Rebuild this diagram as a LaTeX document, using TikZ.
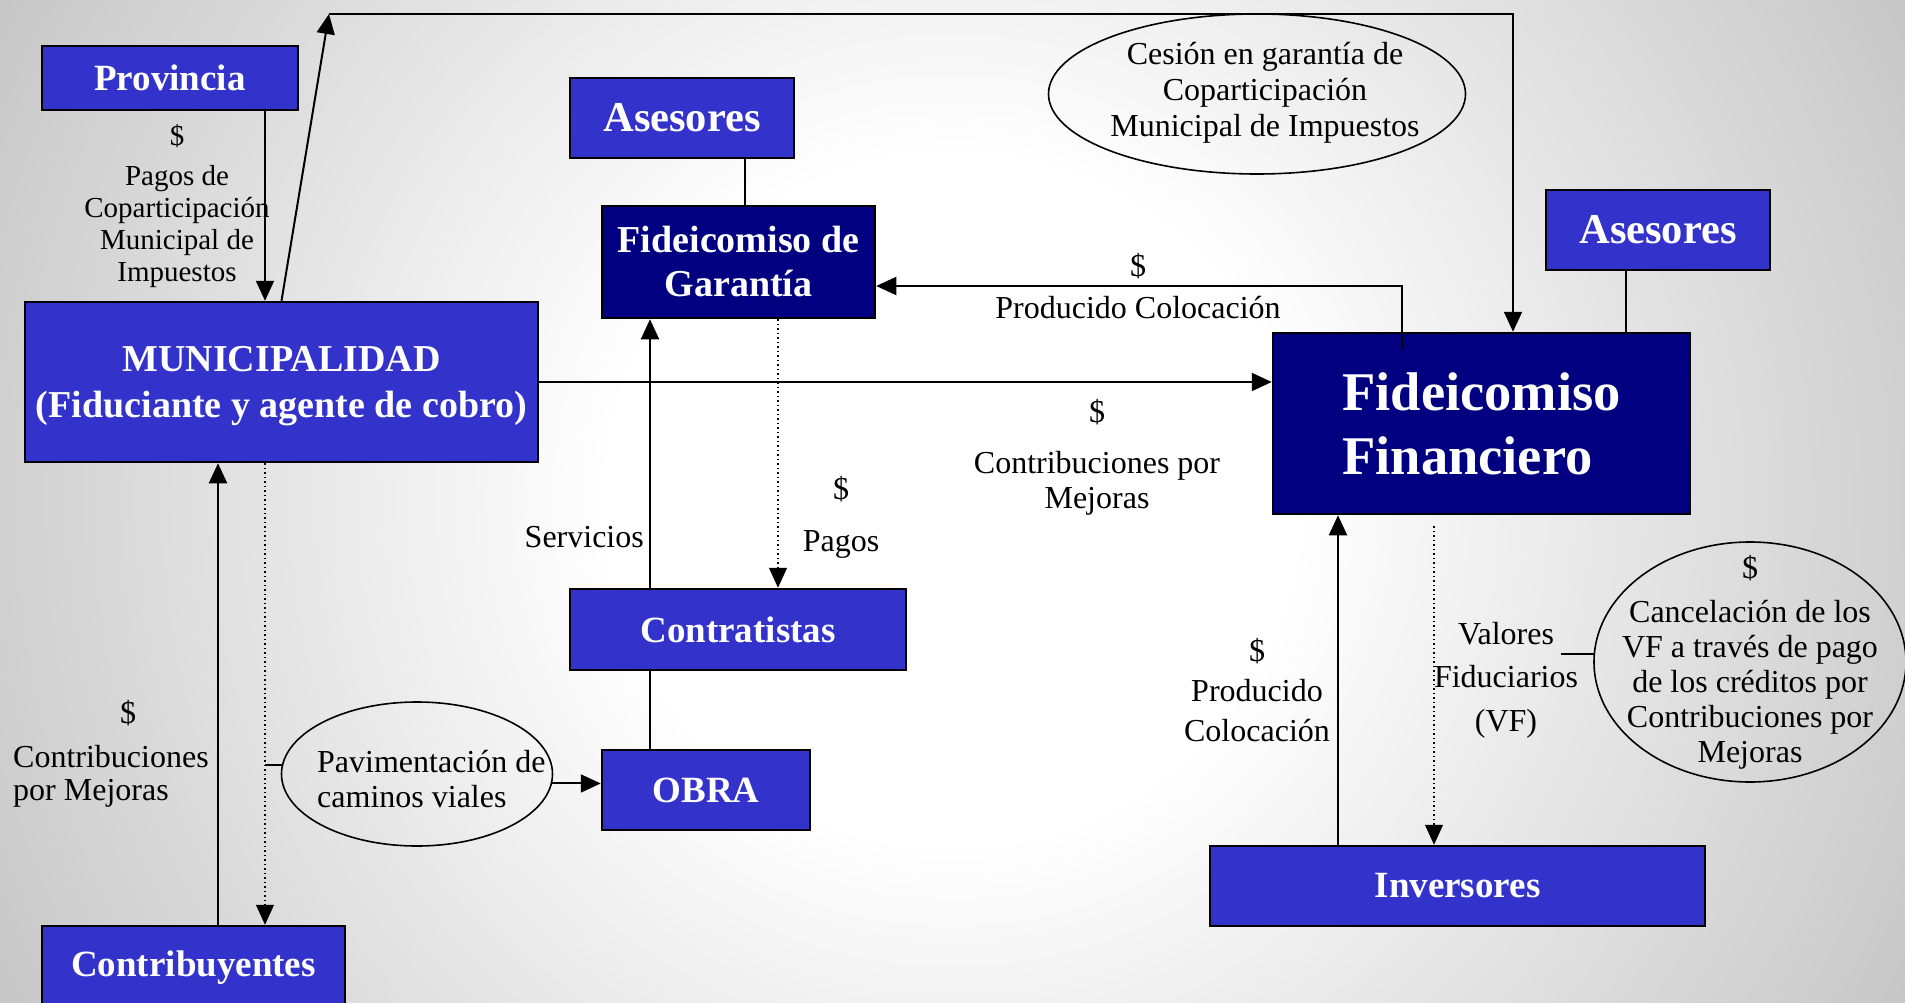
\documentclass[tikz,border=0pt]{standalone}
\usepackage{fontspec}
\setmainfont{Liberation Serif}
\usetikzlibrary{arrows.meta,shapes.geometric}
\definecolor{boxblue}{HTML}{3333CC}
\definecolor{boxnavy}{HTML}{000080}
\newcommand{\boxfont}{\bfseries\fontsize{37}{45}\selectfont}
\newcommand{\lblfont}{\fontsize{32}{35}\selectfont}
\pgfdeclareradialshading{bgshade}{\pgfpoint{0bp}{0bp}}{color(0bp)=(white); color(9bp)=(white); color(50bp)=(black!47); color(75bp)=(black!52)}
\tikzset{
	boxnode/.style={rectangle, draw=black, line width=2.5pt, fill=boxblue, text=white, font=\boxfont, align=center, inner sep=0pt},
	darknode/.style={boxnode, fill=boxnavy},
	asesnode/.style={boxnode, font=\bfseries\fontsize{42.5}{49}\selectfont},
	ovalnode/.style={ellipse, draw=black, line width=1.6pt, font=\lblfont, align=center, inner xsep=-50pt, inner ysep=-40pt},
	lbl/.style={font=\lblfont, align=center, inner sep=0pt},
	link/.style={line width=2pt},
	dotline/.style={line width=1.2pt, dash pattern=on 1.5pt off 3pt}
}

\begin{document}
\begin{tikzpicture}[x=1pt, y=-1pt, >={Triangle[length=20pt,width=18pt]}]
	\useasboundingbox (0,0) rectangle (1905,1003);
	\shade[shading=bgshade] (0,-450) rectangle (1905,1450);
	
	\node[boxnode, minimum width=256pt, minimum height=64pt] at (170,78) (prov) {Provincia};
	\node[asesnode, minimum width=224pt, minimum height=80pt] at (682,118) (asesL) {Asesores};
	\node[darknode, font=\bfseries\fontsize{38}{44}\selectfont, minimum width=273pt, minimum height=112pt] at (738.5,262) (fg) {Fideicomiso de\\Garantía};
	\node[boxnode, font=\bfseries\fontsize{38}{46}\selectfont, text depth=-8pt, minimum width=513pt, minimum height=160pt] at (281.5,382) (muni) {MUNICIPALIDAD\\(Fiduciante y agente de cobro)};
	\node[asesnode, minimum width=224pt, minimum height=80pt] at (1658,230) (asesR) {Asesores};
	\node[darknode, align=left, font=\bfseries\fontsize{54.5}{64}\selectfont, minimum width=417pt, minimum height=181pt] at (1481.5,423.5) (ff) {Fideicomiso\\Financiero};
	\node[boxnode, minimum width=336pt, minimum height=81pt] at (738,629.5) (contrat) {Contratistas};
	\node[boxnode, minimum width=208pt, minimum height=80pt] at (706,790) (obra) {OBRA};
	\node[boxnode, minimum width=303pt, minimum height=84pt] at (193.5,968) (contrib) {Contribuyentes};
	\node[boxnode, minimum width=495pt, minimum height=80pt] at (1457.5,886) (inv) {Inversores};
	
	\node[ovalnode, minimum width=417pt, minimum height=160pt] at (1257,94) (cesion) {};
	\node[lbl, font=\fontsize{32}{36}\selectfont] at (1265,93) (cesionlbl) {Cesión en garantía de\\Coparticipación\\Municipal de Impuestos};
	\node[ovalnode, minimum width=271pt, minimum height=144pt] at (417,774) (pav) {};
	\node[lbl, align=left, anchor=west] at (317,779) (pavlbl) {Pavimentación de\\caminos viales};
	\node[ovalnode, minimum width=312pt, minimum height=240pt] at (1750,662) (cancel) {\$\\[9pt]Cancelación de los\\VF a través de pago\\de los créditos por\\Contribuciones por\\Mejoras};
	
	%Labels
	\node[lbl, font=\fontsize{29}{32}\selectfont] at (177,206) (provlbl) {\$\\[8pt]Pagos de\\Coparticipación\\Municipal de\\Impuestos};
	\node[lbl] at (1138,286) (prodlbl) {\$\\[7pt]Producido Colocación};
	\node[lbl] at (1097,457) (mejlbl) {\$\\[16pt]Contribuciones por\\Mejoras};
	\node[lbl] at (841,517) (pagoslbl) {\$\\[17pt]Pagos};
	\node[lbl, anchor=east] at (644,537) (servlbl) {Servicios};
	\node[lbl] at (128,713) (dollarC) {\$};
	\node[lbl, align=left, anchor=west, font=\fontsize{32}{33}\selectfont] at (13,776.5) (contlbl) {Contribuciones\\por Mejoras};
	\node[lbl, font=\fontsize{32}{40}\selectfont] at (1257,690) (prodlbl2) {\$\\Producido\\Colocación};
	\node[lbl, font=\fontsize{32}{43.5}\selectfont] at (1506,680) (vflbl) {Valores\\Fiduciarios\\(VF)};
	
	%Lines
	\coordinate (xprov) at (265,0);
	\coordinate (xup) at (218,0);
	\coordinate (topL) at (329,14);
	\coordinate (topR) at (1513,14);
	\coordinate (xasesL) at (745,0);
	\coordinate (prodc) at (1402,286);
	\coordinate (xserv) at (650,0);
	\coordinate (xpagos) at (778,0);
	\coordinate (xasesR) at (1626,0);
	\coordinate (xinv) at (1338,0);
	\coordinate (xvf) at (1434,0);
	
	\draw[link, ->] (prov.south -| xprov) -- (muni.north -| xprov);
	\draw[link, ->] (muni.north) -- (topL);
	\draw[link, ->] (topL) -- (topR) -- (topR |- ff.north);
	\draw[link] (asesL.south -| xasesL) -- (fg.north -| xasesL);
	\draw[link, ->] (prodc |- ff.north) ++(0,17) -- (prodc) -- (prodc -| fg.east);
	\draw[link, ->] (muni.east) -- (muni.east -| ff.west);
	\draw[link] (asesR.south -| xasesR) -- (ff.north -| xasesR);
	
	\draw[link, ->] (contrat.north -| xserv) -- (fg.south -| xserv);
	\draw[dotline, ->] (fg.south -| xpagos) -- (contrat.north -| xpagos);
	\draw[link] (contrat.south -| xserv) -- (obra.north -| xserv);
	\draw[link, ->] (pav.356.6) -- (pav.356.6 -| obra.west);
	
	\draw[link, ->] (contrib.north -| xup) -- (muni.south -| xup);
	\draw[dotline, ->] (muni.south -| xprov) -- (contrib.north -| xprov);
	\draw[link] (pav.176.6 -| xprov) -- (pav.176.6);
	
	\draw[link, ->] (inv.north -| xinv) -- (ff.south -| xinv);
	\draw[dotline, ->] (xvf |- ff.south) ++(0,11) -- (xvf |- inv.north);
	\draw[link] ([xshift=-33pt]cancel.177) -- (cancel.177);
\end{tikzpicture}
\end{document}
